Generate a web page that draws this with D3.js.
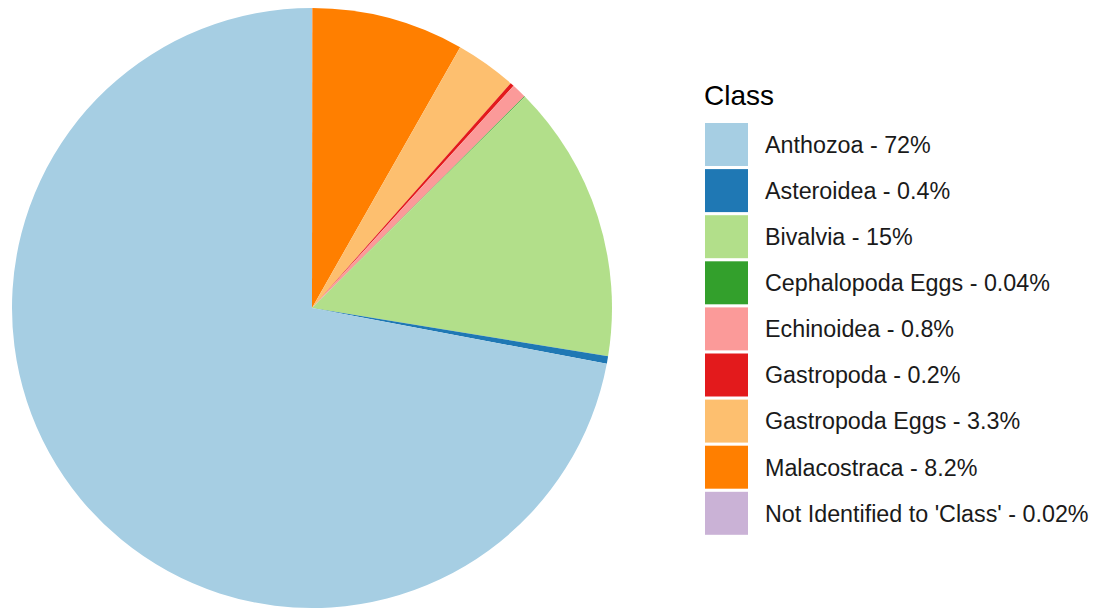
<!DOCTYPE html>
<html>
<head>
<meta charset="utf-8">
<script src="https://cdn.jsdelivr.net/npm/d3@7"></script>
<style>
  html, body { margin: 0; padding: 0; background: #ffffff; }
  svg { display: block; font-family: "Liberation Sans", Arial, sans-serif; }
</style>
</head>
<body>
<svg id="chart" width="1097" height="610"></svg>
<script>
// Share of each class (percent)
const categories = [
  "Anthozoa",
  "Asteroidea",
  "Bivalvia",
  "Cephalopoda Eggs",
  "Echinoidea",
  "Gastropoda",
  "Gastropoda Eggs",
  "Malacostraca",
  "Not Identified to 'Class'"
];
const percents = [72, 0.4, 15, 0.04, 0.8, 0.2, 3.3, 8.2, 0.02];
const percentLabels = ["72%", "0.4%", "15%", "0.04%", "0.8%", "0.2%", "3.3%", "8.2%", "0.02%"];
const palette = ["#A6CEE3", "#1F78B4", "#B2DF8A", "#33A02C", "#FB9A99",
                 "#E31A1C", "#FDBF6F", "#FF7F00", "#CAB2D6"];
const legendTitle = "Class";

const svg = d3.select("#chart");

const color = d3.scaleOrdinal().domain(categories).range(palette);

const data = categories.map((c, i) => ({ cls: c, value: percents[i], label: percentLabels[i] }));

// Slices stack clockwise from 12 o'clock, last class first
const stackOrder = data.slice().reverse();

const cx = 312, cy = 308, radius = 300;

const pie = d3.pie()
  .value(d => d.value)
  .sort(null)
  .startAngle(0)
  .endAngle(2 * Math.PI);

const arc = d3.arc().innerRadius(0).outerRadius(radius);

const g = svg.append("g").attr("transform", `translate(${cx},${cy})`);
g.selectAll("path")
  .data(pie(stackOrder))
  .join("path")
  .attr("d", arc)
  .attr("fill", d => color(d.data.cls));

// Legend
const legend = svg.append("g").attr("transform", "translate(705,0)");
legend.append("text")
  .attr("x", -1)
  .attr("y", 105)
  .attr("font-size", 28)
  .attr("fill", "#000")
  .text(legendTitle);

const keyTop = 123, keyPitch = 46.1, keySize = 43;
const keyY = d3.scaleLinear().domain([0, 1]).range([keyTop, keyTop + keyPitch]);

const items = legend.selectAll("g.item")
  .data(data)
  .join("g")
  .attr("class", "item")
  .attr("transform", (d, i) => `translate(0,${keyY(i)})`);

items.append("rect")
  .attr("width", keySize)
  .attr("height", keySize)
  .attr("fill", d => color(d.cls));

items.append("text")
  .attr("x", 60)
  .attr("y", keySize / 2)
  .attr("dy", "0.36em")
  .attr("font-size", 23.3)
  .attr("fill", "#1a1a1a")
  .text(d => `${d.cls} - ${d.label}`);
</script>
</body>
</html>
